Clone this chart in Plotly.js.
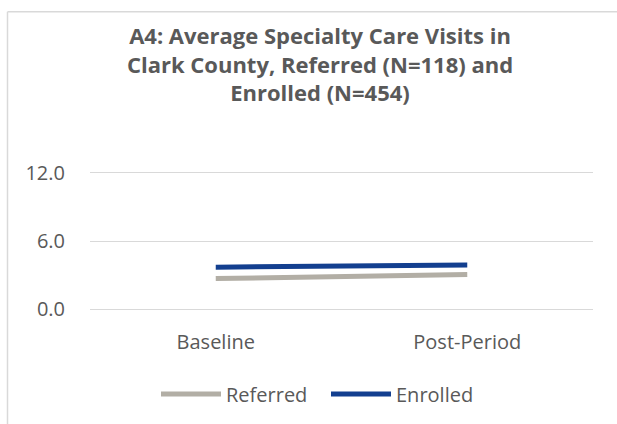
<!DOCTYPE html>
<html>
<head>
<meta charset="utf-8">
<script src="https://cdn.plot.ly/plotly-3.0.1.min.js"></script>
<style>html,body{margin:0;padding:0;background:#fff;}#chart{width:617px;height:424px;}</style>
</head>
<body>
<div id="chart"></div>
<script>
const categories = ["Baseline", "Post-Period"];
const referred = [2.7, 3.05];
const enrolled = [3.7, 3.9];
const yTicks = [0, 6, 12];
const yTickLabels = ["0.0", "6.0", "12.0"];
const titleText = "A4: Average Specialty Care Visits in<br>Clark County, Referred (N=118) and<br>Enrolled (N=454)";

const font = "Open Sans, sans-serif";
const textColor = "#595959";

const traces = [
  {x: categories, y: referred, name: "Referred", type: "scatter", mode: "lines",
   line: {color: "#b2aea5", width: 5}, legend: "legend"},
  {x: categories, y: enrolled, name: "Enrolled", type: "scatter", mode: "lines",
   line: {color: "#133f8f", width: 5}, legend: "legend2"}
];

const L = 90, R = 24, T = 171, B = 112;
const pw = 617 - L - R, ph = 424 - T - B;
const px = v => (v - L) / pw;
const py = v => (424 - B - v) / ph;

const legendBase = {
  orientation: "h", xanchor: "left", xref: "paper",
  y: py(394), yanchor: "middle",
  itemwidth: 60,
  font: {family: font, size: 20, color: textColor},
  bgcolor: "rgba(0,0,0,0)"
};

const layout = {
  width: 617, height: 424,
  margin: {l: L, r: R, t: T, b: B},
  paper_bgcolor: "#fff", plot_bgcolor: "#fff",
  font: {family: font, color: textColor, size: 20},
  title: {
    text: "<b>" + titleText + "</b>",
    font: {family: font, size: 22, color: textColor},
    x: 320 / 617, xref: "container", xanchor: "center",
    y: 1 - 44 / 424, yref: "container", yanchor: "middle"
  },
  xaxis: {
    type: "category", range: [-0.5, 1.5],
    showgrid: false, zeroline: false, showline: false,
    ticks: "outside", ticklen: 13, tickcolor: "rgba(0,0,0,0)",
    tickfont: {family: font, size: 20, color: textColor}
  },
  yaxis: {
    range: [-0.15, 12.15], tickvals: yTicks, ticktext: yTickLabels,
    showgrid: true, gridcolor: "#d9d9d9", gridwidth: 1,
    zeroline: false, showline: false,
    ticks: "outside", ticklen: 20, tickcolor: "rgba(0,0,0,0)",
    tickfont: {family: font, size: 20, color: textColor}
  },
  showlegend: true,
  legend: Object.assign({}, legendBase, {x: px(156)}),
  legend2: Object.assign({}, legendBase, {x: px(326)}),
  shapes: [
    {type: "line", xref: "paper", yref: "paper", x0: px(7.5), x1: px(640), y0: py(10.5), y1: py(10.5),
     line: {color: "#d9d9d9", width: 1.5}},
    {type: "line", xref: "paper", yref: "paper", x0: px(7.5), x1: px(7.5), y0: py(10.5), y1: py(450),
     line: {color: "#d9d9d9", width: 1.5}}
  ]
};

Plotly.newPlot("chart", traces, layout, {displayModeBar: false, staticPlot: true});
</script>
</body>
</html>
